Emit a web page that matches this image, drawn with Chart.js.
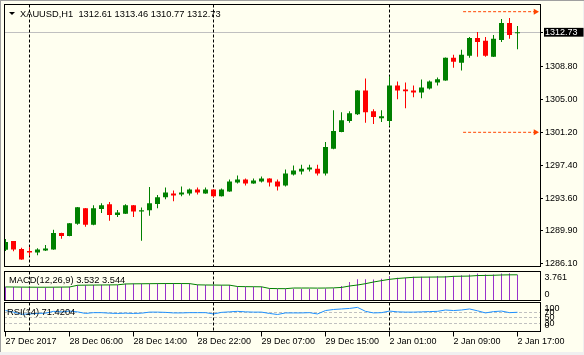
<!DOCTYPE html>
<html><head><meta charset="utf-8">
<script src="https://cdn.jsdelivr.net/npm/chart.js@4.4.0/dist/chart.umd.min.js"></script>
<style>
html,body{margin:0;padding:0;background:#F0F0F0;}
#wrap{position:relative;width:584px;height:355px;overflow:hidden;}
#bg{position:absolute;left:1px;top:1px;width:582px;height:351px;background:#FFFFF0;}
#lt{position:absolute;left:0;top:0;width:584px;height:1px;background:#A0A0A0;}
#ll{position:absolute;left:0;top:0;width:1px;height:352px;background:#A0A0A0;}
canvas{position:absolute;left:0;}
#c1{top:0;}#c2{top:270px;}#c3{top:301px;}
</style></head><body>
<div id="wrap"><div id="bg"></div><div id="lt"></div><div id="ll"></div>
<canvas id="c1" width="584" height="270"></canvas>
<canvas id="c2" width="584" height="31"></canvas>
<canvas id="c3" width="584" height="54"></canvas>
</div>
<script>
// ---------- data ----------
const symbol = 'XAUUSD,H1';
const opens = [1287.65,1288.68,1287.76,1287.53,1287.34,1287.57,1287.68,1289.59,1289.25,1290.65,
1292.44,1290.54,1292.37,1292.90,1291.68,1291.80,1292.79,1292.07,1292.22,1292.94,
1293.70,1294.16,1294.04,1294.16,1294.61,1294.16,1294.61,1293.82,1294.39,1295.42,
1295.76,1295.30,1295.53,1295.87,1295.53,1295.07,1296.33,1296.67,1296.90,1297.01,
1296.44,1299.29,1301.23,1302.49,1303.29,1306.03,1303.63,1302.83,1302.49,1306.60,
1306.14,1306.03,1305.80,1306.26,1306.94,1307.17,1309.80,1309.23,1310.02,1312.08,
1311.74,1309.91,1311.85,1313.79,1312.61];
const highs = [1288.91,1288.68,1287.88,1287.96,1287.84,1288.22,1289.97,1289.62,1290.76,1292.60,
1292.48,1292.79,1293.02,1293.17,1292.25,1292.90,1292.82,1292.52,1294.89,1293.97,
1294.85,1294.50,1294.96,1294.73,1294.85,1294.85,1294.64,1294.73,1295.76,1296.21,
1295.87,1295.87,1296.10,1295.90,1295.76,1296.90,1297.36,1297.47,1297.47,1297.47,
1300.09,1303.75,1303.52,1303.63,1306.05,1307.40,1303.86,1303.75,1307.63,1307.06,
1306.94,1306.60,1307.28,1307.17,1307.51,1309.82,1310.14,1310.71,1312.19,1312.76,
1312.19,1312.42,1314.25,1314.36,1313.46];
const lows = [1287.53,1287.50,1286.50,1286.96,1287.04,1287.53,1287.65,1288.94,1289.22,1290.54,
1290.31,1290.50,1291.91,1291.00,1291.45,1291.78,1291.45,1288.71,1291.57,1292.44,
1293.47,1293.24,1293.82,1293.93,1294.04,1294.12,1293.70,1293.80,1294.36,1295.30,
1295.07,1295.28,1295.42,1294.96,1294.50,1294.96,1296.21,1296.33,1296.67,1296.21,
1296.21,1299.26,1301.20,1302.30,1303.18,1302.30,1302.15,1302.38,1301.92,1305.00,
1303.97,1305.23,1305.12,1306.14,1306.60,1307.15,1308.65,1308.31,1309.80,1309.91,
1309.91,1309.89,1311.62,1311.97,1310.77];
const closes = [1288.56,1287.68,1286.54,1287.34,1287.68,1287.80,1289.59,1289.25,1290.73,1292.56,
1290.54,1292.44,1292.79,1291.68,1291.95,1292.79,1292.07,1292.22,1293.02,1293.70,
1294.27,1293.93,1294.27,1294.61,1294.27,1294.61,1293.82,1294.61,1295.53,1295.76,
1295.30,1295.64,1295.87,1295.42,1294.96,1296.44,1296.79,1297.01,1297.13,1296.44,
1299.52,1301.35,1302.60,1303.40,1306.03,1303.52,1302.95,1303.06,1306.60,1306.03,
1305.92,1305.80,1306.37,1307.06,1307.32,1309.80,1309.34,1310.14,1312.08,1311.62,
1310.02,1311.97,1313.79,1312.42,1312.73];
const macdHist = [1.88,1.86,1.82,1.80,1.80,1.80,1.84,1.86,1.90,
2.10,2.12,2.14,2.16,2.16,2.14,
2.32,2.34,2.34,2.36,2.38,2.40,2.40,2.38,2.38,
2.16,2.14,2.12,2.12,2.14,
1.92,1.90,1.90,1.88,
1.64,1.60,1.62,
1.62,1.62,1.62,1.58,1.64,1.68,
2.00,2.55,2.92,2.92,2.90,3.01,3.28,3.15,3.15,
3.28,3.28,3.28,3.38,3.38,3.38,3.47,
3.58,3.72,3.58,3.58,3.74,3.761,3.532];
const macdSignal = [1.87,1.86,1.85,1.84,1.83,1.83,1.84,1.85,1.86,
2.10,2.12,2.13,2.14,2.15,2.16,
2.28,2.30,2.31,2.32,2.33,2.34,2.34,2.34,2.33,
2.16,2.14,2.13,2.12,2.12,
1.93,1.91,1.90,1.89,
1.66,1.64,1.63,
1.72,1.72,1.72,1.71,1.72,1.74,1.80,
2.00,2.14,2.32,2.55,2.74,2.92,3.04,3.12,
3.20,3.22,3.23,3.24,3.25,
3.33,3.35,3.37,
3.44,3.46,3.48,
3.52,3.54,3.544];
const rsi14 = [78,72,64,65,67,68,75,73,76,73,
67,70,70,68,67,68,67,68,72,72,
71,69,69,70,70,70,65,71,73,75,
73,72,72,67,63,69,69,69,70,65,
78,82,84,86,90,75,69,70,76,73,
72,72,73,74,75,80,78,80,84,77,
69,74,76,70,71.4204];
const priceTicks = [1308.80,1305.00,1301.20,1297.40,1293.60,1289.90,1286.10];
const xTickIdx = [0,8,16,24,32,40,48,56,64];
const xTickLabels = ['27 Dec 2017','28 Dec 06:00','28 Dec 14:00','28 Dec 22:00','29 Dec 07:00','29 Dec 15:00','2 Jan 01:00','2 Jan 09:00','2 Jan 17:00'];
const separators = [3,26,48];
const rayLevels = [1315.10,1301.20];
const rayFrom = 57.2, rayTo = 66.25;
const macdAxisTicks = [3.761,0];
const macdAxisLabels = ['3.761','0'];
const rsiAxisTicks = [100,70,50,30,0];
const rsiLevels = [70,50,30];

// ---------- styling ----------
const FONT = "'Liberation Sans', Arial, sans-serif";
const UP = '#008000', DOWN = '#FF0000', RAY = '#FF4500';
const X_MIN = -0.1875, X_MAX = 66.8125;
const last = closes.length - 1;
const lastClose = closes[last];
const candleColors = closes.map((c, i) => c >= opens[i] ? UP : DOWN);
Chart.defaults.font.family = FONT;

function xScale(display) {
  return { type: 'linear', display: display, min: X_MIN, max: X_MAX, offset: false, grid: { offset: false } };
}

function panelPlugin(cfg) {
  return {
    id: 'panel_' + cfg.name,
    beforeDatasetsDraw(chart) {
      const { ctx, chartArea: a, scales } = chart;
      ctx.save();
      ctx.lineWidth = 1;
      if (cfg.levels) {
        ctx.strokeStyle = '#C0C0C0';
        ctx.setLineDash([3, 2]);
        cfg.levels.forEach(v => {
          const y = Math.floor(scales.y.getPixelForValue(v)) + 0.5;
          ctx.beginPath(); ctx.moveTo(a.left, y); ctx.lineTo(a.right, y); ctx.stroke();
        });
      }
      if (cfg.priceLine !== undefined) {
        ctx.setLineDash([]);
        ctx.strokeStyle = '#C0C0C0';
        const y = Math.floor(scales.y.getPixelForValue(cfg.priceLine)) + 0.5;
        ctx.beginPath(); ctx.moveTo(a.left, y); ctx.lineTo(a.right, y); ctx.stroke();
      }
      ctx.strokeStyle = '#000';
      ctx.setLineDash([3, 2]);
      separators.forEach(i => {
        const x = Math.floor(scales.x.getPixelForValue(i)) + 0.5;
        ctx.beginPath(); ctx.moveTo(x, a.top); ctx.lineTo(x, a.bottom); ctx.stroke();
      });
      ctx.restore();
    },
    afterDatasetsDraw(chart) {
      const { ctx, chartArea: a } = chart;
      ctx.save();
      ctx.strokeStyle = '#000'; ctx.lineWidth = 1; ctx.setLineDash([]);
      const x1 = Math.round(a.left) + 0.5, x2 = Math.round(a.right) + 0.5;
      const y1 = Math.floor(a.top) + 0.5, y2 = Math.floor(a.bottom) + 0.5;
      ctx.strokeRect(x1, y1, x2 - x1, y2 - y1);
      ctx.restore();
    },
    afterDraw(chart) {
      const { ctx, chartArea: a, scales } = chart;
      ctx.save();
      ctx.fillStyle = '#000';
      if (cfg.triangle) {
        ctx.beginPath(); ctx.moveTo(9, 12); ctx.lineTo(15, 12); ctx.lineTo(12, 15); ctx.closePath(); ctx.fill();
      }
      ctx.font = '9.3px ' + FONT;
      ctx.textBaseline = 'alphabetic'; ctx.textAlign = 'left';
      ctx.fillText(cfg.title, cfg.titleX, cfg.titleY);
      if (cfg.axisTicks) {
        ctx.font = '9px ' + FONT;
        ctx.textBaseline = 'middle';
        cfg.axisTicks.forEach((v, k) => {
          let y = scales.y.getPixelForValue(v);
          y = Math.max(a.top + 6.5, Math.min(a.bottom - 6, y));
          ctx.fillText(cfg.axisLabels[k], a.right + 4.5, y);
        });
      }
      ctx.restore();
    }
  };
}

// ---------- main price chart ----------
new Chart(document.getElementById('c1'), {
  type: 'bar',
  data: {
    datasets: [
      { label: 'body', data: opens.map((o, i) => ({ x: i, y: [o, closes[i]] })), backgroundColor: candleColors,
        maxBarThickness: 5, barPercentage: 1, categoryPercentage: 1, grouped: false, minBarLength: 1, inflateAmount: 0, borderWidth: 0, order: 1 },
      { label: 'wick', data: lows.map((l, i) => ({ x: i, y: [l, highs[i]] })), backgroundColor: candleColors,
        maxBarThickness: 1, barPercentage: 1, categoryPercentage: 1, grouped: false, inflateAmount: 0, borderWidth: 0, order: 2 },
      ...rayLevels.map(v => ({ type: 'line', label: 'ray', data: [{ x: rayFrom, y: v }, { x: rayTo, y: v }],
        borderColor: RAY, borderWidth: 1, borderDash: [3, 2], pointStyle: 'triangle', pointRotation: 90,
        pointRadius: [0, 3.5], pointBackgroundColor: RAY, pointBorderWidth: 0, order: 0 }))
    ]
  },
  options: {
    responsive: false, animation: false, devicePixelRatio: 1, events: [],
    layout: { padding: { left: 4, top: 4.5, right: 0, bottom: 1.5 } },
    plugins: { legend: { display: false }, tooltip: { enabled: false } },
    scales: {
      x: xScale(false),
      y: {
        position: 'right', min: 1285.79, max: 1315.93,
        afterFit(s) { s.width = 44; s.paddingTop = 0; s.paddingBottom = 0; },
        afterBuildTicks(s) { s.ticks = [lastClose, ...priceTicks].map(v => ({ value: v })); },
        ticks: {
          autoSkip: false, padding: 2, font: { size: 9 },
          color: c => (c.tick && c.tick.value === lastClose) ? '#FFFFFF' : '#000000',
          showLabelBackdrop: c => !!(c.tick && c.tick.value === lastClose),
          backdropColor: '#000000',
          backdropPadding: { top: -1, bottom: -1, left: 1, right: 6 },
          callback: v => Number(v).toFixed(2)
        },
        grid: { drawOnChartArea: false, drawTicks: true, tickLength: 3, color: '#000' },
        border: { display: false }
      }
    }
  },
  plugins: [panelPlugin({ name: 'main', priceLine: lastClose, triangle: true,
    title: symbol + '  ' + [opens[last], highs[last], lows[last], closes[last]].map(v => v.toFixed(2)).join(' '),
    titleX: 20, titleY: 16.5 })]
});

// ---------- MACD ----------
new Chart(document.getElementById('c2'), {
  type: 'bar',
  data: {
    datasets: [
      { type: 'line', label: 'signal', data: macdSignal.map((v, i) => ({ x: i, y: v })), borderColor: '#008000',
        borderWidth: 1, pointRadius: 0, tension: 0, order: 0 },
      { label: 'macd', data: macdHist.map((v, i) => ({ x: i, y: v })), backgroundColor: '#9932CC',
        maxBarThickness: 1, barPercentage: 1, categoryPercentage: 1, grouped: false, inflateAmount: 0, borderWidth: 0, order: 1 }
    ]
  },
  options: {
    responsive: false, animation: false, devicePixelRatio: 1, events: [],
    layout: { padding: { left: 4, top: 1.5, right: 44, bottom: 0.5 } },
    plugins: { legend: { display: false }, tooltip: { enabled: false } },
    scales: { x: xScale(false), y: { display: false, min: 0, max: 4.0 } }
  },
  plugins: [panelPlugin({ name: 'macd', title: 'MACD(12,26,9) ' + macdHist[last].toFixed(3) + ' ' + macdSignal[last].toFixed(3),
    titleX: 9, titleY: 12.7, axisTicks: macdAxisTicks, axisLabels: macdAxisLabels })]
});

// ---------- RSI ----------
new Chart(document.getElementById('c3'), {
  type: 'line',
  data: {
    datasets: [
      { label: 'rsi', data: rsi14.map((v, i) => ({ x: i, y: v })), borderColor: '#1E90FF', borderWidth: 1, pointRadius: 0, tension: 0 }
    ]
  },
  options: {
    responsive: false, animation: false, devicePixelRatio: 1, events: [],
    layout: { padding: { left: 4, top: 1.5, right: 44, bottom: 0 } },
    plugins: { legend: { display: false }, tooltip: { enabled: false } },
    scales: {
      x: Object.assign(xScale(true), {
        position: 'bottom',
        afterFit(s) { s.height = 23.5; s.paddingLeft = 0; s.paddingRight = 0; },
        afterBuildTicks(s) { s.ticks = xTickIdx.map(v => ({ value: v })); },
        ticks: { autoSkip: false, maxRotation: 0, minRotation: 0, align: 'start', padding: 0, font: { size: 9 }, color: '#000',
          callback: (v, k) => xTickLabels[k] },
        grid: { offset: false, drawOnChartArea: false, drawTicks: true, tickLength: 5, color: '#000' },
        border: { display: false }
      }),
      y: { display: false, min: -1.5, max: 108.5 }
    }
  },
  plugins: [panelPlugin({ name: 'rsi', levels: rsiLevels, title: 'RSI(14) ' + rsi14[last].toFixed(4),
    titleX: 7, titleY: 14.3, axisTicks: rsiAxisTicks, axisLabels: rsiAxisTicks.map(String) })]
});
</script>
</body></html>
